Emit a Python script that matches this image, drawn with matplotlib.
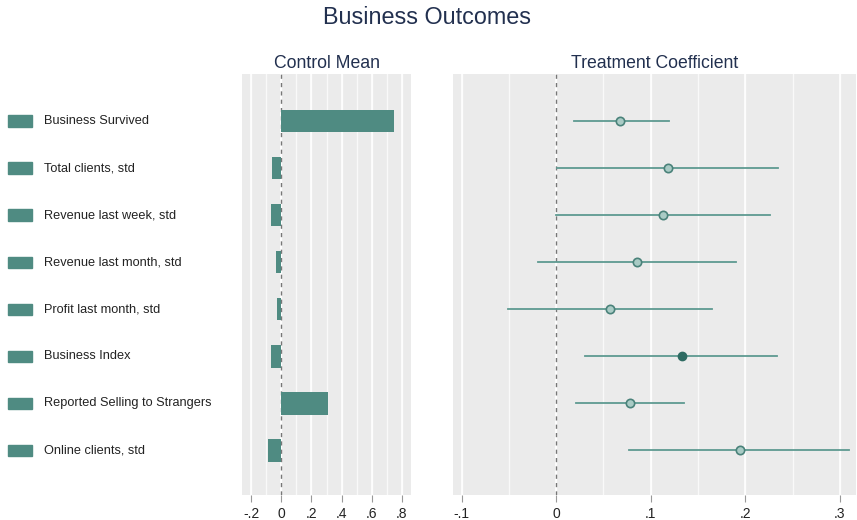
import matplotlib
matplotlib.use("Agg")
import matplotlib.pyplot as plt
from matplotlib.patches import Rectangle
import numpy as np

plt.rcParams['font.family'] = ['Liberation Sans', 'DejaVu Sans']

outcomes = [
    "Business Survived",
    "Total clients, std",
    "Revenue last week, std",
    "Revenue last month, std",
    "Profit last month, std",
    "Business Index",
    "Reported Selling to Strangers",
    "Online clients, std",
]
control_mean = [0.75, -0.06, -0.065, -0.035, -0.027, -0.065, 0.31, -0.09]
coef = [0.068, 0.118, 0.113, 0.085, 0.057, 0.133, 0.078, 0.194]
ci_low = [0.019, 0.001, 0.0, -0.019, -0.051, 0.031, 0.021, 0.077]
ci_high = [0.119, 0.235, 0.226, 0.19, 0.165, 0.234, 0.135, 0.31]
significant = [False, False, False, False, False, True, False, False]

left_ticks = [-0.2, 0, 0.2, 0.4, 0.6, 0.8]
left_ticklabels = ["-.2", "0", ".2", ".4", ".6", ".8"]
right_ticks = [-0.1, 0, 0.1, 0.2, 0.3]
right_ticklabels = ["-.1", "0", ".1", ".2", ".3"]

TEAL = "#4f8b82"
LINE = "#5e9a91"
BG = "#ebebeb"
NAVY = "#22304f"

W, H = 857, 520
fig = plt.figure(figsize=(W / 100, H / 100), dpi=100)

y = np.arange(len(outcomes))
ylim = (7.95, -1.0)

def px_axes(x0, x1, y0, y1):
    return fig.add_axes([x0 / W, 1 - y1 / H, (x1 - x0) / W, (y1 - y0) / H])

ax_l = px_axes(242, 411, 74, 495)
ax_r = px_axes(453, 856, 74, 495)
ax_lab = px_axes(0, 235, 74, 495)

def style_panel(ax, xlim, ticks, labels, minor_step):
    ax.set_facecolor(BG)
    ax.set_xlim(*xlim)
    ax.set_ylim(*ylim)
    for s in ax.spines.values():
        s.set_visible(False)
    ax.set_yticks([])
    ax.set_xticks(ticks)
    ax.set_xticklabels(labels, fontsize=10, color="#222222")
    ax.tick_params(axis="x", direction="out", length=5, width=0.8,
                   color="#999999", pad=3.5)
    minors = np.arange(ticks[0] - minor_step, ticks[-1] + 2 * minor_step, minor_step)
    for v in minors:
        if xlim[0] < v < xlim[1]:
            ax.axvline(v, color="white", lw=1.0, alpha=0.75, zorder=0.5)
    for v in ticks:
        ax.axvline(v, color="white", lw=1.2, zorder=0.6)
    ax.axvline(0, color="#777777", lw=1.0, ls=(0, (3, 3)), zorder=1)

style_panel(ax_l, (-0.26, 0.86), left_ticks, left_ticklabels, 0.1)
style_panel(ax_r, (-0.109, 0.317), right_ticks, right_ticklabels, 0.05)

# Control means as horizontal bars
ax_l.barh(y, control_mean, height=0.48, color=TEAL, zorder=2)

# Treatment coefficients with confidence intervals
for yi, c, lo, hi, sig in zip(y, coef, ci_low, ci_high, significant):
    ax_r.plot([lo, hi], [yi, yi], color=LINE, lw=1.3, zorder=2)
    if sig:
        ax_r.plot(c, yi, "o", ms=6, mfc="#2e6b62", mec="#2e6b62", zorder=3)
    else:
        ax_r.plot(c, yi, "o", ms=6, mfc="#a9cbc5", mec="#4a827a", mew=1.2, zorder=3)

ax_l.set_title("Control Mean", fontsize=12.7, color=NAVY, pad=4)
ax_r.set_title("Treatment Coefficient", fontsize=12.7, color=NAVY, pad=4)
fig.text(427 / W, 1 - 18 / H, "Business Outcomes", ha="center", va="center",
         fontsize=16.8, color=NAVY)

# Row labels with colour keys
ax_lab.set_xlim(0, 235)
ax_lab.set_ylim(*ylim)
ax_lab.axis("off")
for yi, name in zip(y, outcomes):
    ax_lab.add_patch(Rectangle((8, yi - 0.12), 24, 0.24, color=TEAL))
    ax_lab.text(44, yi, name, ha="left", va="center", fontsize=9.2, color="#222222")

fig.savefig("out.png", dpi=100)
